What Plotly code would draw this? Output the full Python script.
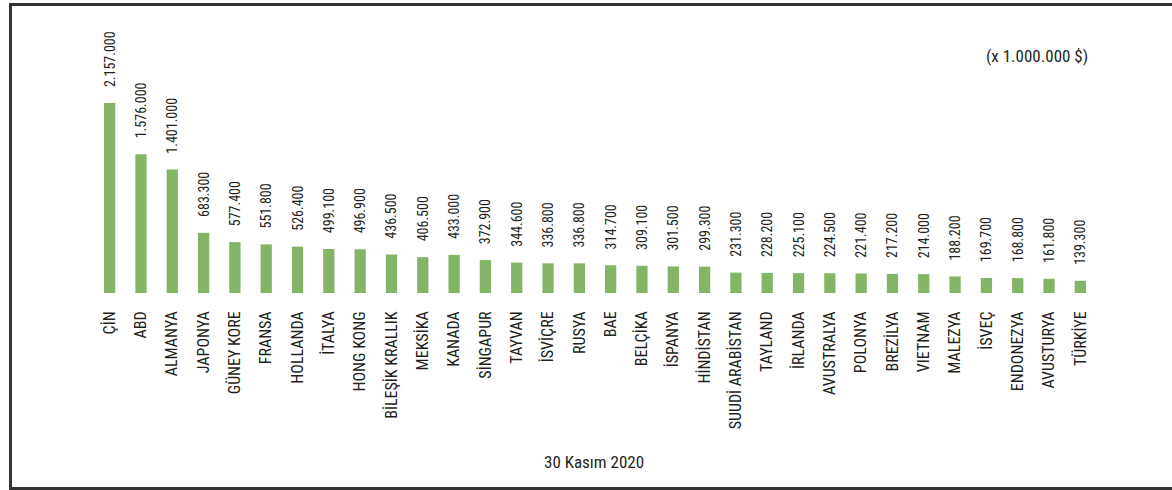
import plotly.graph_objects as go

countries = ["ÇİN", "ABD", "ALMANYA", "JAPONYA", "GÜNEY KORE", "FRANSA", "HOLLANDA", "İTALYA",
             "HONG KONG", "BİLEŞİK KRALLIK", "MEKSİKA", "KANADA", "SİNGAPUR", "TAYVAN", "İSVİÇRE",
             "RUSYA", "BAE", "BELÇİKA", "İSPANYA", "HİNDİSTAN", "SUUDİ ARABİSTAN", "TAYLAND",
             "İRLANDA", "AVUSTRALYA", "POLONYA", "BREZİLYA", "VIETNAM", "MALEZYA", "İSVEÇ",
             "ENDONEZYA", "AVUSTURYA", "TÜRKİYE"]
values = [2157.0, 1576.0, 1401.0, 683.3, 577.4, 551.8, 526.4, 499.1,
          496.9, 436.5, 406.5, 433.0, 372.9, 344.6, 336.8,
          336.8, 314.7, 309.1, 301.5, 299.3, 231.3, 228.2,
          225.1, 224.5, 221.4, 217.2, 214.0, 188.2, 169.7,
          168.8, 161.8, 139.3]
value_labels = ["2.157.000", "1.576.000", "1.401.000", "683.300", "577.400", "551.800", "526.400", "499.100",
                "496.900", "436.500", "406.500", "433.000", "372.900", "344.600", "336.800",
                "336.800", "314.700", "309.100", "301.500", "299.300", "231.300", "228.200",
                "225.100", "224.500", "221.400", "217.200", "214.000", "188.200", "169.700",
                "168.800", "161.800", "139.300"]
unit_note = "(x 1.000.000 $)"
date_note = "30 Kasım 2020"

FONT = "Roboto Condensed, Roboto, sans-serif"
TXT = "#231f20"
PAD = "\u00a0" * 4

fig = go.Figure(go.Bar(
    x=countries, y=values, text=[PAD + t for t in value_labels],
    textposition="outside", textangle=-90, constraintext="none",
    textfont=dict(family=FONT, size=14, color=TXT),
    marker=dict(color="#84b466", line=dict(width=0)),
    width=0.36, cliponaxis=False, hoverinfo="x+y",
))

W, L, PLOT_W = 1172, 94, 1002
TOP, BOT = 30, 293
PH = BOT - TOP

def px_x(x):
    return (x - L) / PLOT_W

def px_y(y):
    return (BOT - y) / PH

frame_path = "M {xr},{yt} L {xl},{yt} L {xl},{yb} L {xr},{yb}".format(
    xr=px_x(1190), xl=px_x(10.5), yt=px_y(4.5), yb=px_y(488.5))

fig.update_layout(
    width=W, height=490,
    margin=dict(l=L, r=W - L - PLOT_W, t=TOP, b=490 - BOT),
    paper_bgcolor="white", plot_bgcolor="white",
    showlegend=False,
    font=dict(family=FONT, color=TXT),
    xaxis=dict(range=[-0.5, len(countries) - 0.5], showgrid=False, zeroline=False, showline=False,
               tickangle=-90, tickfont=dict(family=FONT, size=16, color=TXT),
               ticks="outside", ticklen=11, tickcolor="rgba(0,0,0,0)", fixedrange=True),
    yaxis=dict(range=[0, 2985], visible=False, showgrid=False, fixedrange=True),
    shapes=[
        dict(type="path", xref="paper", yref="paper", path=frame_path,
             line=dict(color="#333333", width=3), fillcolor="rgba(0,0,0,0)"),
    ],
    annotations=[
        dict(text=unit_note, xref="paper", yref="paper", x=px_x(1037), y=px_y(56),
             showarrow=False, xanchor="center", yanchor="middle",
             font=dict(family=FONT, size=17, color=TXT)),
        dict(text=date_note, xref="paper", yref="paper", x=px_x(594), y=px_y(462),
             showarrow=False, xanchor="center", yanchor="middle",
             font=dict(family=FONT, size=17, color=TXT)),
    ],
)

fig.write_html("out.html", config={"displayModeBar": False},
               post_script="document.body.style.margin='0';document.body.style.padding='0';document.body.style.overflow='hidden';")
